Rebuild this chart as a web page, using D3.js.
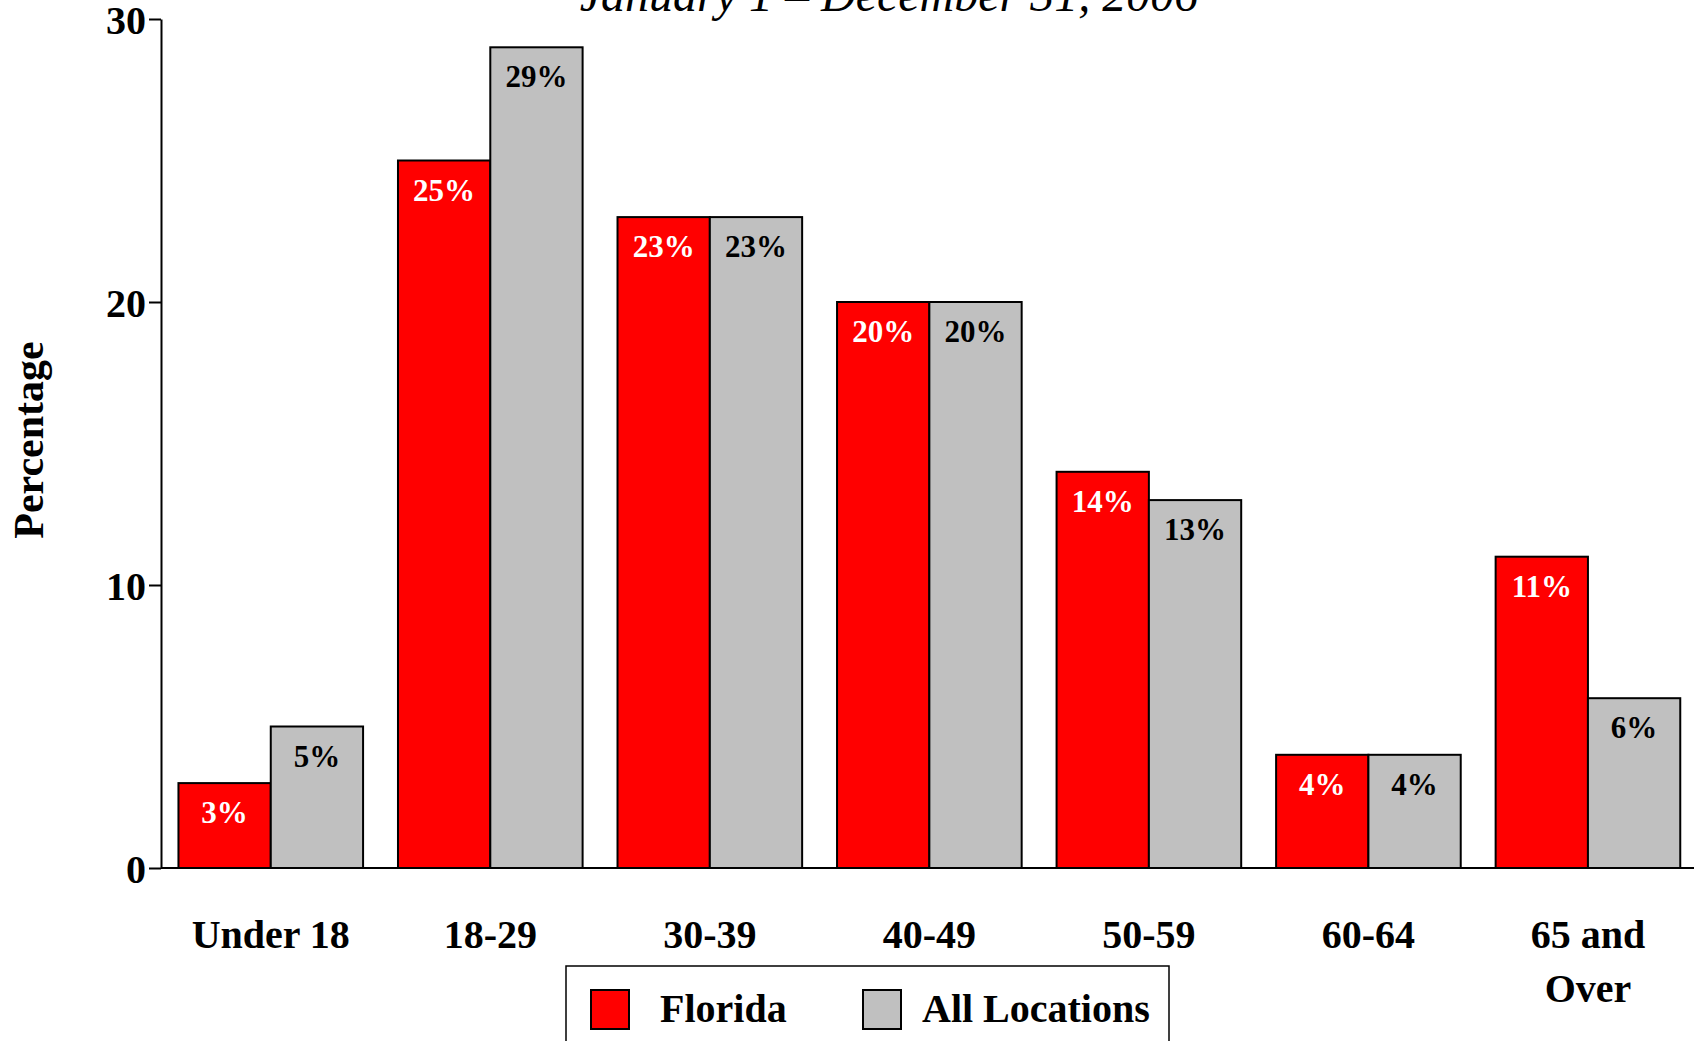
<!DOCTYPE html>
<html>
<head>
<meta charset="utf-8">
<script src="https://cdn.jsdelivr.net/npm/d3@7/dist/d3.min.js"></script>
<style>
  html, body { margin: 0; padding: 0; background: #fff; }
  svg { display: block; }
  text { font-family: "Liberation Serif", "Times New Roman", serif; }
</style>
</head>
<body>
<svg id="chart" width="1694" height="1041"></svg>
<script>
const categories = ["Under 18", "18-29", "30-39", "40-49", "50-59", "60-64", "65 and Over"];
const categoryLines = [["Under 18"], ["18-29"], ["30-39"], ["40-49"], ["50-59"], ["60-64"], ["65 and", "Over"]];
const seriesNames = ["Florida", "All Locations"];
const florida = [3, 25, 23, 20, 14, 4, 11];
const allLocations = [5, 29, 23, 20, 13, 4, 6];
const yTicks = [0, 10, 20, 30];
const subtitle = "January 1 \u2013 December 31, 2006";
const yLabel = "Percentage";

const colors = { "Florida": "#ff0000", "All Locations": "#c0c0c0" };
const labelColors = { "Florida": "#ffffff", "All Locations": "#000000" };

const svg = d3.select("#chart");
const left = 161, baseY = 868, topY = 19;
const step = 219.53;
const right = left + step * 7;

const y = d3.scaleLinear().domain([0, 30]).range([baseY, topY]);
const x0 = d3.scaleBand().domain(categories).range([left, right])
  .paddingInner(0.159).paddingOuter(0.0795);
const x1 = d3.scaleBand().domain(seriesNames).range([0, x0.bandwidth()]);

const data = categories.map((c, i) => ({
  cat: c,
  values: [
    { s: "Florida", v: florida[i] },
    { s: "All Locations", v: allLocations[i] }
  ]
}));

// Subtitle (cut off at the top)
svg.append("text")
  .attr("x", 889).attr("y", 11)
  .attr("text-anchor", "middle")
  .attr("font-size", 48).attr("font-style", "italic")
  .text(subtitle);

// Bars
const groups = svg.append("g").selectAll("g").data(data).join("g")
  .attr("transform", d => `translate(${x0(d.cat)},0)`);

groups.selectAll("rect").data(d => d.values).join("rect")
  .attr("x", d => x1(d.s))
  .attr("y", d => y(d.v))
  .attr("width", x1.bandwidth())
  .attr("height", d => y(0) - y(d.v))
  .attr("fill", d => colors[d.s])
  .attr("stroke", "#000")
  .attr("stroke-width", 2);

groups.selectAll("text.val").data(d => d.values).join("text")
  .attr("class", "val")
  .attr("x", d => x1(d.s) + x1.bandwidth() / 2)
  .attr("y", d => y(d.v) + 40)
  .attr("text-anchor", "middle")
  .attr("font-size", 31).attr("font-weight", "bold")
  .attr("fill", d => labelColors[d.s])
  .text(d => d.v + "%");

// Y axis
const yAxis = svg.append("g")
  .attr("transform", `translate(${left},0)`)
  .call(d3.axisLeft(y).tickValues(yTicks).tickSize(12).tickSizeOuter(0).tickPadding(3));
yAxis.select(".domain").attr("stroke", "#000").attr("stroke-width", 2);
yAxis.selectAll(".tick line").attr("stroke", "#000").attr("stroke-width", 2);
yAxis.selectAll(".tick text")
  .attr("font-family", "'Liberation Serif', 'Times New Roman', serif")
  .attr("font-size", 40).attr("font-weight", "bold").attr("fill", "#000")
  .attr("dy", "0.36em");

// Baseline
svg.append("line")
  .attr("x1", left).attr("x2", 1700)
  .attr("y1", baseY).attr("y2", baseY)
  .attr("stroke", "#000").attr("stroke-width", 2);

// Category labels
svg.append("g").selectAll("text").data(categories).join("text")
  .attr("x", d => x0(d) + x0.bandwidth() / 2)
  .attr("y", 948)
  .attr("text-anchor", "middle")
  .attr("font-size", 40).attr("font-weight", "bold")
  .each(function(d, i) {
    d3.select(this).selectAll("tspan").data(categoryLines[i]).join("tspan")
      .attr("x", x0(d) + x0.bandwidth() / 2)
      .attr("dy", (t, j) => j === 0 ? 0 : 54)
      .text(t => t);
  });

// Y label
svg.append("text")
  .attr("transform", "translate(43,440) rotate(-90)")
  .attr("text-anchor", "middle")
  .attr("font-size", 42).attr("font-weight", "bold")
  .text(yLabel);

// Legend
const legend = svg.append("g");
legend.append("rect")
  .attr("x", 566).attr("y", 966)
  .attr("width", 603).attr("height", 120)
  .attr("fill", "#fff").attr("stroke", "#000").attr("stroke-width", 1.5);
const legendItems = [
  { s: "Florida", sx: 591, tx: 660 },
  { s: "All Locations", sx: 863, tx: 922 }
];
legendItems.forEach(it => {
  legend.append("rect")
    .attr("x", it.sx).attr("y", 990)
    .attr("width", 38).attr("height", 39)
    .attr("fill", colors[it.s]).attr("stroke", "#000").attr("stroke-width", 2);
  legend.append("text")
    .attr("x", it.tx).attr("y", 1022)
    .attr("font-size", 40).attr("font-weight", "bold")
    .text(it.s);
});
</script>
</body>
</html>
